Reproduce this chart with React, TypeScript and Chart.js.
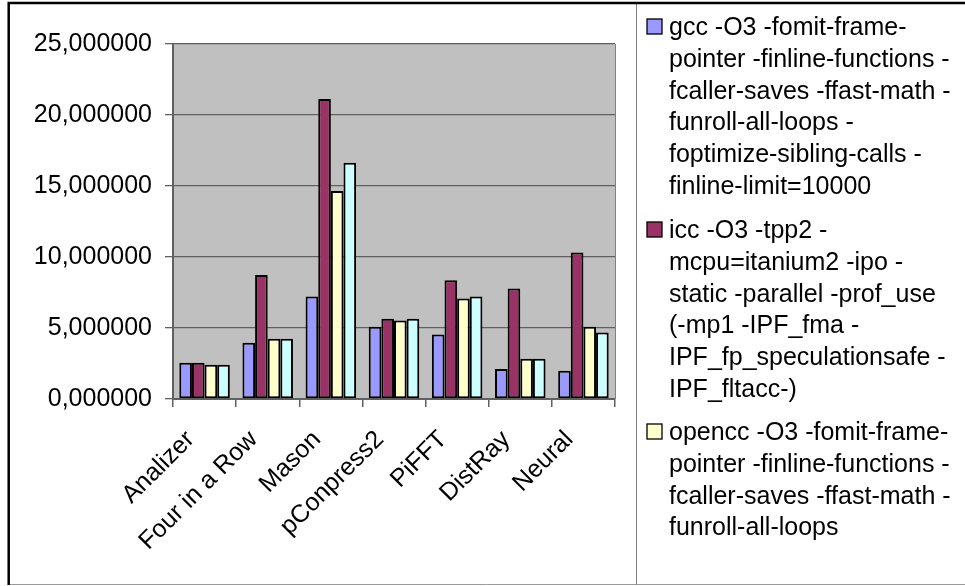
import { useEffect, useRef } from "react";
import { Chart, registerables } from "chart.js";

Chart.register(...registerables);

// Benchmarks on the x axis
const categories = ["Analizer", "Four in a Row", "Mason", "pConpress2", "PiFFT", "DistRay", "Neural"];

// Run times per compiler configuration
const gccValues = [2.56, 3.97, 7.21, 5.09, 4.55, 2.11, 1.99];
const iccValues = [2.56, 8.73, 21.13, 5.66, 8.36, 7.79, 10.31];
const openccValues = [2.42, 4.25, 14.65, 5.52, 7.07, 2.84, 5.09];
const series4Values = [2.42, 4.25, 16.64, 5.66, 7.21, 2.84, 4.69];

// Value axis
const yMin = 0;
const yMax = 25;
const yStep = 5;

// Legend text, one array of wrapped lines per series
const gccLegend = [
  "gcc -O3 -fomit-frame-",
  "pointer -finline-functions -",
  "fcaller-saves -ffast-math -",
  "funroll-all-loops -",
  "foptimize-sibling-calls -",
  "finline-limit=10000",
];
const iccLegend = [
  "icc -O3 -tpp2 -",
  "mcpu=itanium2 -ipo -",
  "static -parallel -prof_use",
  "(-mp1 -IPF_fma -",
  "IPF_fp_speculationsafe -",
  "IPF_fltacc-)",
];
const openccLegend = [
  "opencc -O3 -fomit-frame-",
  "pointer -finline-functions -",
  "fcaller-saves -ffast-math -",
  "funroll-all-loops",
];

const COLORS = ["#9999FF", "#993366", "#FFFFCC", "#CCFFFF"];
const FONT = "'Liberation Sans', Arial, sans-serif";
const W = 965;
const H = 586;

const framePlugin = {
  id: "excelFrame",
  beforeDraw(chart: any) {
    const { ctx, chartArea } = chart;
    ctx.save();
    ctx.fillStyle = "#ffffff";
    ctx.fillRect(0, 0, W, H);
    ctx.fillStyle = "#C0C0C0";
    ctx.fillRect(chartArea.left, chartArea.top, chartArea.right - chartArea.left, chartArea.bottom - chartArea.top);
    ctx.restore();
  },
  afterDraw(chart: any) {
    const { ctx, chartArea } = chart;
    ctx.save();
    // plot area right edge
    ctx.strokeStyle = "#808080";
    ctx.lineWidth = 1;
    ctx.beginPath();
    ctx.moveTo(chartArea.right + 0.5, chartArea.top);
    ctx.lineTo(chartArea.right + 0.5, chartArea.bottom);
    ctx.stroke();

    // outer chart frame
    ctx.strokeStyle = "#9a9a9a";
    ctx.lineWidth = 1;
    ctx.beginPath();
    ctx.moveTo(8, 584.5);
    ctx.lineTo(W, 584.5);
    ctx.stroke();
    ctx.strokeStyle = "#808080";
    ctx.beginPath();
    ctx.moveTo(636.5, 3);
    ctx.lineTo(636.5, 585);
    ctx.stroke();
    ctx.strokeStyle = "#000000";
    ctx.lineWidth = 2.5;
    ctx.beginPath();
    ctx.moveTo(8.7, 585);
    ctx.lineTo(8.7, 3);
    ctx.lineTo(W, 3);
    ctx.stroke();

    // legend
    const entries = [gccLegend, iccLegend, openccLegend];
    const firstBaselines = [35, 238, 440];
    const lineGap = 31.8;
    ctx.font = `25px ${FONT}`;
    ctx.textBaseline = "alphabetic";
    ctx.textAlign = "left";
    entries.forEach((lines, i) => {
      const base = firstBaselines[i];
      ctx.fillStyle = COLORS[i];
      ctx.fillRect(647, base - 16, 15, 15);
      ctx.strokeStyle = "#000000";
      ctx.lineWidth = 1.3;
      ctx.strokeRect(647, base - 16, 15, 15);
      ctx.fillStyle = "#000000";
      lines.forEach((line, j) => {
        ctx.fillText(line, 669, base + j * lineGap);
      });
    });
    ctx.restore();
  },
};

export default function App() {
  const canvasRef = useRef<HTMLCanvasElement | null>(null);

  useEffect(() => {
    const canvas = canvasRef.current;
    if (!canvas) return;
    const barStyle = (i: number) => ({
      backgroundColor: COLORS[i],
      borderColor: "#000000",
      borderWidth: 2,
      borderSkipped: false as const,
      categoryPercentage: 0.8,
      barPercentage: 1.0,
    });
    const chart = new Chart(canvas, {
      type: "bar",
      data: {
        labels: categories,
        datasets: [
          { label: gccLegend.join(" "), data: gccValues, ...barStyle(0) },
          { label: iccLegend.join(" "), data: iccValues, ...barStyle(1) },
          { label: openccLegend.join(" "), data: openccValues, ...barStyle(2) },
          { label: "Series 4", data: series4Values, ...barStyle(3) },
        ],
      },
      options: {
        responsive: false,
        animation: false,
        devicePixelRatio: 1,
        layout: { padding: { left: 0, top: 44, right: 350, bottom: 0 } },
        plugins: {
          legend: { display: false },
          tooltip: { enabled: false },
          title: { display: false },
        },
        scales: {
          x: {
            offset: true,
            afterFit: (scale: any) => {
              scale.height = 187;
            },
            grid: {
              offset: true,
              drawOnChartArea: false,
              drawTicks: true,
              tickLength: 8,
              color: "#606060",
              lineWidth: 1.5,
            },
            border: { display: true, color: "#606060", width: 2 },
            ticks: {
              minRotation: 45,
              maxRotation: 45,
              autoSkip: false,
              padding: 18,
              labelOffset: -14,
              color: "#000000",
              font: { family: FONT, size: 25 },
            },
          },
          y: {
            min: yMin,
            max: yMax,
            afterFit: (scale: any) => {
              scale.width = 173;
            },
            grid: {
              drawOnChartArea: true,
              drawTicks: true,
              tickLength: 8,
              color: "#606060",
              lineWidth: 1.3,
            },
            border: { display: true, color: "#606060", width: 2 },
            ticks: {
              stepSize: yStep,
              padding: 13,
              color: "#000000",
              font: { family: FONT, size: 25 },
              callback: (v: any) => Number(v).toFixed(6).replace(".", ","),
            },
          },
        },
      },
      plugins: [framePlugin],
    });
    return () => chart.destroy();
  }, []);

  return (
    <div style={{ position: "fixed", left: 0, top: 0, width: W, height: H, background: "#ffffff" }}>
      <canvas ref={canvasRef} width={W} height={H} style={{ display: "block", width: W, height: H }} />
    </div>
  );
}
